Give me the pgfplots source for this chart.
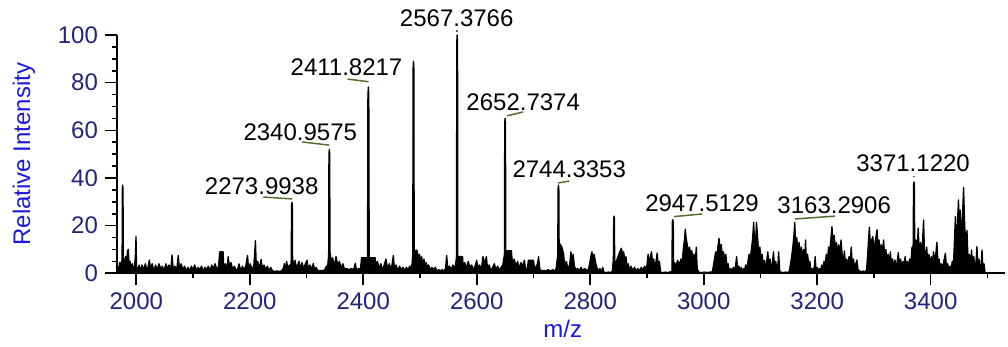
\documentclass[border=0pt]{standalone}
\usepackage{fontspec}
\setmainfont{Liberation Sans}
\usepackage{pgfplots}
\pgfplotsset{compat=1.18}
\definecolor{ticknavy}{RGB}{35,35,125}
\definecolor{labelblue}{RGB}{25,25,225}
\definecolor{olivel}{RGB}{85,110,45}
\begin{document}
\begin{tikzpicture}[font=\fontsize{12}{14}\selectfont]
\begin{axis}[
  scale only axis, width=444pt, height=119.15pt,
  xmin=1966, xmax=3531, ymin=0, ymax=100,
  axis x line=bottom, axis y line=left,
  axis line style={-, line width=0.8pt},
  tick align=outside, major tick length=6pt, minor tick length=2.5pt,
  xtick={2000,2200,...,3400}, minor xtick={2100,2300,...,3500},
  ytick={0,20,...,100}, minor ytick={5,10,15,25,30,35,45,50,55,65,70,75,85,90,95},
  tick style={black, line width=0.8pt},
  ticklabel style={text=ticknavy, font=\fontsize{12}{14}\selectfont},
  /pgf/number format/assume math mode=true,
  /pgf/number format/1000 sep={},
  xlabel={m/z}, ylabel={Relative Intensity},
  label style={text=labelblue, font=\fontsize{12}{14}\selectfont},
  xlabel style={at={(axis description cs:0.502,-0.232)}, anchor=center},
  ylabel style={at={(axis description cs:-0.1047,0.5)}, anchor=center},
  clip=false,
]
\addplot[black, fill=black, line width=0.65pt, line join=round] coordinates {
(1966,0)(1967,3)(1969,2)(1971,4.5)(1973,3)(1975,6)(1975.4,35.5)(1976,37)(1976.6,35.5)(1977.2,6)(1979,4)(1981,7)(1983,5)(1984.5,9.5)(1986,10)(1987.5,3)(1989,5)(1991,2)(1993,4)(1995,1.5)(1997,3)(1998.5,8)(1999.5,15.4)(2000.5,3)(2003,1)(2005,3.5)(2008,1)(2010,3.5)
(2013,1.5)(2016,4)(2019,1)(2021,3)(2023,5.6)(2025,2)(2028,4)(2031,1)(2034,3.5)(2037,1.5)(2040,4)(2043,2)(2046,3)(2049,1)(2052,4)(2055,2)(2058,3.5)(2061,1.5)(2063,7.7)(2065,2)(2068,3)(2071,1)(2074,7.5)(2076,2)(2079,4)(2082,1.5)(2085,3)(2088,1)(2091,2.5)(2094,1)(2097,3)(2100,1.5)(2103,3.5)(2106,1)(2109,2.5)(2112,1.5)(2115,3)(2118,1)(2121,2.5)(2124,1.5)(2127,3)(2130,1)(2133,3.5)(2136,2)(2139,4)(2142,1.5)(2145,3)(2147,9)(2150,9)(2153,9)(2154,3)(2157,4)(2160,2)(2162,7)(2164,3)(2167,4.5)(2170,1.5)(2173,3)(2176,1)(2179,2)(2181,4)(2184,1)(2187,3)(2190,1.5)(2193,3)(2196,7.5)(2198,2)(2201,4)(2204,1.5)(2207,3)(2209,10)(2210,13.7)(2211.5,3)(2214,5)(2217,2)
(2220,5.8)(2222,2)(2225,3.5)(2228,1.5)(2231,3)(2234,1)(2237,2.5)(2240,1)(2244,0.8)(2248,1)(2252,0.8)(2256,1)(2259,2)(2261,4)(2263,1.5)(2265,5)(2267,2)(2270,3.5)(2272,2)(2273.1,6)(2273.6,28.5)(2274.3,29.8)(2275,28.5)(2275.5,6)(2278,3)(2280,5.5)(2282,2)(2285,4)(2287,5)(2289,1.5)(2292,4.5)(2295,2)(2298,4)(2301,5.5)(2303,2)(2306,3.5)(2309,1.5)(2312,4.2)(2314,1.5)(2317,2.5)(2320,1)(2324,1.2)(2328,1)(2332,1.5)(2335,3)(2337,2)(2339,8)(2339.5,50)(2340.2,52)(2340.9,50)(2341.4,9)
(2344,4)(2346,6.5)(2349,3)(2352,7)(2355,3.5)(2358,5)(2361,2)(2364,4)(2367,1.8)(2371,2)(2375,1.5)(2379,2)(2383,1.5)(2386,4.2)(2388,1.5)(2392,2)(2395,1.5)(2397,6.5)(2407.5,6.5)(2408.2,75)(2409,78.2)(2409.8,75)(2410.5,6.5)(2421,6.5)(2422,3)(2425,5)(2428,2)(2431,4)(2434,1.5)(2437,3.5)(2440,6)(2443,2)(2446,4)(2449,1.5)(2451,4)(2453,7.5)(2455,2)(2458,3.5)(2461,1)(2464,3)(2467,1.5)(2470,2.5)(2473,1)(2476,2.5)(2479,1.5)(2482,3)(2484,2)(2486,4)(2487.3,8)(2487.8,86)(2488.5,89)(2489.2,86)(2489.8,9.8)
(2491,7)(2493,9.8)(2495,9.5)(2497,6)(2499,8)(2501,5)(2503,7)(2505,3)(2507,6)(2509,2.5)(2511,4.5)(2513,2)(2515,3.5)(2518,1.5)(2521,2.5)(2524,1.5)(2527,2.5)(2530,1)(2533,1.5)(2536,1)(2539,1.5)(2542,1)(2545,2)(2547,7.5)(2549,2)(2552,3)(2555,1.5)(2558,3.5)(2561,2)(2563,4)(2564.3,7)(2564.8,97)(2565.5,100)(2566.2,97)(2566.7,7)(2575,7)(2576,3)(2579,4.5)(2582,2)(2585,5)(2588,2.5)(2591,3.5)(2594,1.5)(2597,3)(2600,5.5)(2602,2)(2605,3.5)(2608,1.5)(2611,7)(2614,4)(2617,7)(2619,2)(2622,3.5)(2625,1)(2628,2.5)(2631,4)(2634,1.5)(2637,3)(2640,1)(2643,2.5)(2646,3.5)(2648.8,8)(2649.3,63)(2650,65)(2650.7,63)(2651.2,9.5)(2661,9.5)
(2663,4)(2666,6)(2669,3)(2672,5)(2675,2)(2678,4.5)(2681,3)(2684,5.5)(2686,2)(2689,1.5)(2691,5.5)(2700,5.5)(2702,2)(2705,3)(2707,4)(2709,7)(2711,2)(2714,1)(2718,1.2)(2722,1)(2726,1.5)(2730,1)(2734,1.5)(2738,1)(2740,2)(2742.8,8)(2743.3,35.5)(2744,37)(2744.7,35.5)(2745.2,12)(2747,12.3)(2750,11)(2753,8.4)(2755,3)(2758,5)(2761,1.5)(2764,4)(2766,9)(2768,5)(2770,8)(2772,3)(2775,1.5)(2778,2)(2781,1)(2784,2.5)(2787,1)(2790,2)(2793,1.5)(2796,1)(2799,4)(2801,7)(2803,9)(2805,6)(2807,8)(2809,5)(2811,3)(2814,1)(2817,2)(2820,0.5)(2822,2.5)(2824,0.5)(2828,0.3)(2832,0.5)(2836,0.3)(2839,1)(2840.8,6)(2841.4,23)(2842,24)(2842.6,23)(2843.2,4)
(2846,5)(2849,7)(2852,9)(2855,10.5)(2857,8)(2859,9)(2861,5)(2863,7)(2865,3)(2867,4)(2869,1.5)(2872,3)(2875,1)(2878,2.5)(2881,1)(2884,2)(2887,1)(2890,2.5)(2893,1.5)(2896,3)(2899,1)(2902,8)(2904,3)(2906,7)(2908,9)(2910,4)(2912,6)(2914,2)(2916,5)(2918,8.5)(2920,3)(2922,5)(2924,0.5)(2928,0.3)(2932,0.5)(2936,0.3)(2940,0.5)(2944,1)(2944.6,21.5)(2945.5,22.5)(2946.4,21.5)(2947,3)
(2949,4.5)(2951,2.5)(2954,5.5)(2957,3.5)(2960,6)(2962,4)(2964,10)(2966,14)(2967.5,18.5)(2969,15)(2971,12)(2973,9)(2975,11)(2977,8)(2979,9.5)(2981,6)(2983,8)(2985,5)(2987,11)(2988.5,2)(2991,0.5)(2996,0.3)(3001,0.5)(3006,0.3)(3011,0.5)(3015,0.5)
(3017,3)(3019,6)(3021,9)(3023,7)(3025,11)(3027,14.7)(3029,10)(3031,12)(3033,7)(3035,9)(3037,5)(3039,8)(3041,3)(3043,4)(3045,1)(3048,2)(3050,0.5)(3052,2.5)(3054,1)(3056,3)(3058,7)(3060,1.5)(3062,3)(3064,1)(3066,2.5)(3068,0.5)(3070,2)(3072,1)(3074,3.5)(3076,1.5)(3078,5)(3080,8)(3082,6)(3084,10)(3086,14)(3088,21.4)(3090,12)(3091,11)(3093,21.4)(3095,15)(3097,8)(3099,11)(3101,6)(3103,8)(3105,3)(3107,5.5)(3109,2)(3111,5)(3113,9)(3115,3)(3117,6)(3119,1.5)(3121,4)(3123,9)(3125,2)(3127,5)(3129,1.5)(3131,4)(3132,9)(3134,1)(3136,0.5)(3140,0.3)(3144,0.5)(3148,0.3)(3151,1)
(3153,4)(3155,7)(3157,11)(3159,16)(3160.5,21.4)(3162,12)(3164,15)(3166,9)(3168,13)(3170,8)(3172,11)(3174,7)(3176,10)(3178,6)(3179.5,14)(3181,5)(3183,8)(3185,4)(3187,5)(3189,1)(3191,2)(3193,0.5)(3195,3)(3196.5,7)(3198,1)(3200,2.5)(3202,0.5)(3204,2)(3206,1)(3208,3.5)(3210,1.5)(3212,5)(3214,3)(3216,8)(3218,5)(3220,11)(3222,9)(3224,14)(3226,19.6)(3228,13)(3230,16)(3232,10)(3234,13)(3236,8)(3238,12)(3240,7)(3242,14)(3244,8)(3246,4)(3248,9.4)(3250,3)(3252,6)(3254,2)(3256,7)(3258,4)(3260,11)(3262,3)(3264,6)(3266,2)(3268,4)(3270,5.6)(3272,1.5)(3275,1)(3278,0.5)(3281,1)(3284,0.5)(3287,1.5)
(3289,8)(3290.5,14)(3292,19.4)(3294,11)(3296,14)(3298,15.4)(3300,10)(3302,13)(3304,16)(3305.5,18.3)(3307,12)(3309,14)(3311,9)(3313,12)(3315,8)(3317,14)(3319,7)(3321,10)(3323,5)(3325,8)(3327,4)(3329,9)(3331,3)(3333,6)(3335,2)(3337,5.6)(3339,2)(3341,5)(3343,8.7)(3345,3)(3347,6)(3349,2)(3351,5)(3353,3)(3355,7)(3357,2)(3359,5)(3361,3)(3363,6)(3365,4)(3367,11)(3369,8)(3369.8,37)(3370.5,38.4)(3371.2,37)(3372,10)(3374,14)(3376,9)(3378,19)(3380,8)(3382,13)(3384,7)(3386,15)(3387.5,22.4)(3389,10)(3391,6)(3393,11)(3395,4)(3397,8)(3399,3)(3401,7)(3403,4)(3405,9)(3407,5)(3409,8)(3411,13)(3413,4)(3415,6)(3417,1.5)(3419,4)(3421,1)(3423,5)(3426,8.4)(3428,2)(3430,4)(3432,1)(3434,3)(3436,1.5)(3438,5)(3440,3)
(3442,14)(3443.5,23.8)(3445,12)(3447,20)(3449,30.8)(3450.5,18)(3452,26.6)(3454,15)(3456,24)(3458,36)(3460,20)(3462,12)(3464,18)(3466,5)(3468,8)(3470,3)(3472,9.8)(3474,4)(3476,7)(3478,2)(3480,5)(3481.5,11.2)(3483,3)(3485,6)(3487,2)(3489,4)(3490.5,9.8)(3492,2)(3494,4)(3496,0)
} \closedcycle;
\node[anchor=base] at (axis cs:2221,32.9) {2273.9938};
\node[anchor=base] at (axis cs:2289,55.6) {2340.9575};
\node[anchor=base] at (axis cs:2370.5,82.8) {2411.8217};
\node[anchor=base] at (axis cs:2564.7,103.4) {2567.3766};
\node[anchor=base] at (axis cs:2681.9,68.5) {2652.7374};
\node[anchor=base] at (axis cs:2763,40) {2744.3353};
\node[anchor=base] at (axis cs:2997,25.9) {2947.5129};
\node[anchor=base] at (axis cs:3230,25.2) {3163.2906};
\node[anchor=base] at (axis cs:3369,42.6) {3371.1220};
\draw[olivel, line width=0.75pt] (axis cs:2223.8,32.0) -- (axis cs:2274.9,31.2);
\draw[olivel, line width=0.75pt] (axis cs:2292.5,55.1) -- (axis cs:2340,53.8);
\draw[olivel, line width=0.75pt] (axis cs:2372.3,81.5) -- (axis cs:2409.3,80.4);
\draw[olivel, line width=0.75pt] (axis cs:2565,102.0) -- (axis cs:2565,101.4);
\draw[olivel, line width=0.75pt] (axis cs:2653.7,66.1) -- (axis cs:2681.9,67.7);
\draw[olivel, line width=0.75pt] (axis cs:2743.6,37.9) -- (axis cs:2763,38.7);
\draw[olivel, line width=0.75pt] (axis cs:2948,23.8) -- (axis cs:2997.3,24.9);
\draw[olivel, line width=0.75pt] (axis cs:3161.2,22.8) -- (axis cs:3231.6,24.0);
\draw[olivel, line width=0.75pt] (axis cs:3370.8,40.8) -- (axis cs:3370.8,40.2);
\end{axis}
\pgfresetboundingbox
\path[use as bounding box] (-58.5pt,-36.85pt) rectangle (445.5pt,136.65pt);
\end{tikzpicture}
\end{document}
